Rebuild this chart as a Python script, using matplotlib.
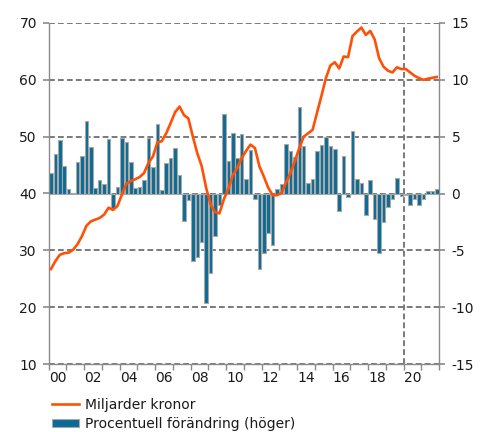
import matplotlib
matplotlib.use("Agg")
import matplotlib.pyplot as plt
import numpy as np
from matplotlib.patches import Patch
from matplotlib.lines import Line2D

# Quarterly data 2000Q1 - 2021Q4
start_year = 2000
end_year = 2022

# Miljarder kronor (left axis)
billions = [
    26.7, 28.1, 29.2, 29.5,   # 2000
    29.6, 30.1, 31.1, 32.5,   # 2001
    34.3, 35.1, 35.4, 35.7,   # 2002
    36.3, 37.5, 37.1, 37.8,   # 2003
    39.8, 41.7, 42.2, 42.5,   # 2004
    42.9, 43.6, 45.4, 46.5,   # 2005
    49.0, 49.2, 50.6, 52.4,   # 2006
    54.3, 55.3, 53.8, 53.2,   # 2007
    50.0, 47.1, 44.8, 41.0,   # 2008
    38.1, 36.7, 36.5, 39.0,   # 2009
    40.8, 43.2, 44.5, 46.2,   # 2010
    47.5, 48.6, 48.0, 44.8,   # 2011
    43.0, 41.0, 39.7, 39.7,   # 2012
    40.1, 41.9, 43.6, 45.7,   # 2013
    48.0, 50.0, 50.6, 51.2,   # 2014
    54.2, 57.2, 60.3, 62.5,   # 2015
    63.1, 62.0, 64.1, 64.0,   # 2016
    67.7, 68.5, 69.2, 67.9,   # 2017
    68.6, 67.1, 63.8, 62.3,   # 2018
    61.6, 61.3, 62.2, 61.9,   # 2019
    61.9, 61.3, 60.7, 60.3,   # 2020
    60.0, 60.2, 60.35, 60.5,  # 2021
]

# Procentuell förändring (right axis)
pct_change = [
    1.8, 3.5, 4.7, 2.4,       # 2000
    0.4, 0.05, 2.8, 3.3,      # 2001
    6.4, 4.1, 0.5, 1.2,       # 2002
    0.8, 4.8, -1.3, 0.6,      # 2003
    4.9, 4.5, 2.8, 0.5,       # 2004
    0.6, 1.2, 4.9, 2.3,       # 2005
    6.1, 0.35, 2.7, 3.1,      # 2006
    4.0, 1.6, -2.4, -0.6,     # 2007
    -5.9, -5.6, -4.3, -9.6,   # 2008
    -7.0, -3.7, -1.05, 7.0,   # 2009
    2.9, 5.3, 3.1, 5.2,       # 2010
    1.3, 3.8, -0.5, -6.6,     # 2011
    -5.2, -3.5, -4.5, 0.4,    # 2012
    0.8, 4.35, 3.7, 3.2,      # 2013
    7.6, 4.2, 0.9, 1.3,       # 2014
    3.7, 4.3, 5.0, 4.2,       # 2015
    3.9, -1.55, 3.3, -0.3,    # 2016
    5.5, 1.3, 0.95, -1.85,    # 2017
    1.2, -2.2, -5.2, -2.5,    # 2018
    -1.2, -0.5, 1.4, -0.2,    # 2019
    -0.1, -1.0, -0.5, -1.0,   # 2020
    -0.5, 0.25, 0.2, 0.4,     # 2021
]

year_labels = ["00", "02", "04", "06", "08", "10", "12", "14", "16", "18", "20"]
left_ticks = [10, 20, 30, 40, 50, 60, 70]
right_ticks = [-15, -10, -5, 0, 5, 10, 15]
forecast_start = 2020

label_line = "Miljarder kronor"
label_bar = "Procentuell förändring (höger)"

n = len(billions)
x = start_year + (np.arange(n) + 0.5) / 4.0

LINE_C = "#ff5005"
BAR_C = "#0b6b96"
BAR_EDGE = "#a8a8a8"
GRID_C = "#7a7a7a"
AX_C = "#8a8a8a"
TXT_C = "#1a1a1a"

plt.rcParams["font.family"] = ["DejaVu Sans"]
plt.rcParams["font.size"] = 10

fig = plt.figure(figsize=(4.89, 4.32), dpi=100)
ax = fig.add_axes([48.7 / 489, 68 / 432, (439 - 48.7) / 489, (364 - 23) / 432])
ax2 = ax.twinx()
ax.set_zorder(2)
ax2.set_zorder(1)
ax.patch.set_visible(False)

# bars on right axis
ax2.bar(x, pct_change, width=0.2, color=BAR_C, edgecolor=BAR_EDGE,
        linewidth=0.8, zorder=3)
ax2.set_ylim(-15, 15)
ax2.set_yticks(right_ticks)
ax2.set_yticklabels([str(t) for t in right_ticks])
for t in right_ticks:
    ax2.axhline(t, color=GRID_C, linewidth=1.4, linestyle=(0, (3, 1.6)), zorder=1)
ax2.axvline(forecast_start, color=GRID_C, linewidth=1.4,
            linestyle=(0, (3, 1.6)), zorder=1)

# line on left axis
ax.plot(x, billions, color=LINE_C, linewidth=1.9, solid_joinstyle="round", zorder=5)
ax.set_ylim(10, 70)
ax.set_yticks(left_ticks)
ax.set_xlim(start_year, end_year)

# x ticks: every year boundary, labels centred on even years
ax.set_xticks(np.arange(start_year, end_year + 1))
ax.set_xticklabels([])
label_pos = [start_year + 2 * i + 0.5 for i in range(len(year_labels))]
ax.set_xticks(label_pos, minor=True)
ax.set_xticklabels(year_labels, minor=True)
ax.tick_params(axis="x", which="minor", length=0, pad=5, labelcolor=TXT_C)
ax.tick_params(axis="x", which="major", length=4, width=1, color=AX_C)
ax.tick_params(axis="y", length=4.5, width=1.2, color=AX_C, pad=4, labelcolor=TXT_C)
ax2.tick_params(axis="y", length=4.5, width=1.2, color=AX_C, pad=4.5, labelcolor=TXT_C)

for a in (ax, ax2):
    a.spines["top"].set_visible(False)
    for s in ("left", "right", "bottom"):
        a.spines[s].set_color(AX_C)
        a.spines[s].set_linewidth(1)
ax.spines["right"].set_visible(False)
ax2.spines["left"].set_visible(False)
ax2.spines["bottom"].set_visible(False)

handles = [
    Line2D([0], [0], color=LINE_C, linewidth=1.9),
    Patch(facecolor=BAR_C, edgecolor=BAR_EDGE, linewidth=0.8),
]
leg = fig.legend(handles, [label_line, label_bar], loc="upper left",
                 bbox_to_anchor=(52 / 489, 34 / 432), frameon=False,
                 borderpad=0, borderaxespad=0, handlelength=1.95,
                 handleheight=0.55, handletextpad=0.4, labelspacing=0.35,
                 fontsize=10)
for t in leg.get_texts():
    t.set_color(TXT_C)

fig.savefig("out.png", dpi=100)
